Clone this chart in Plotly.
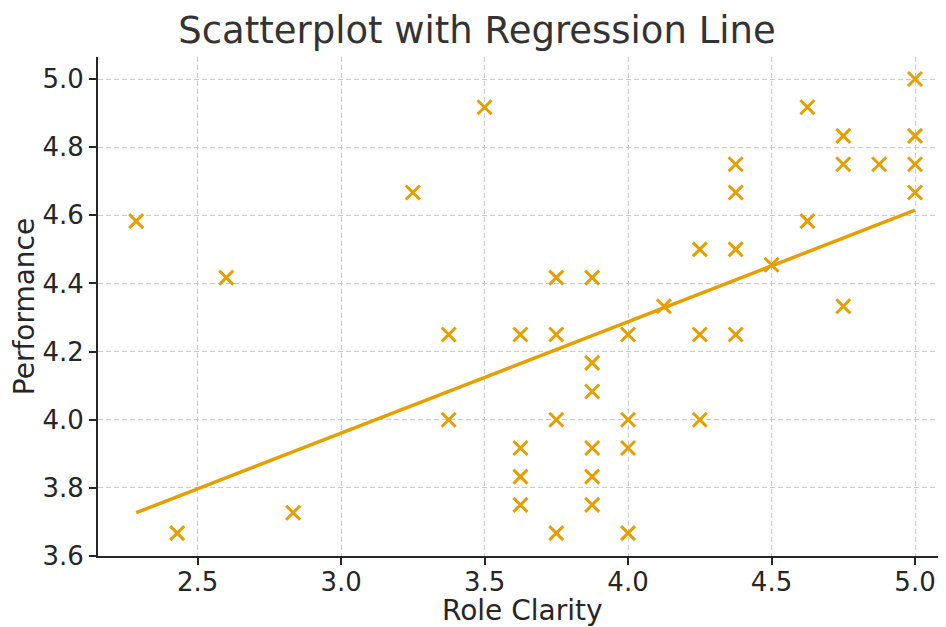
import plotly.graph_objects as go

# Data
role_clarity = [2.286, 2.429, 2.6, 2.833, 3.25, 3.375, 3.375, 3.5,
                3.625, 3.625, 3.625, 3.625,
                3.75, 3.75, 3.75, 3.75,
                3.875, 3.875, 3.875, 3.875, 3.875, 3.875,
                4.0, 4.0, 4.0, 4.0,
                4.125,
                4.25, 4.25, 4.25,
                4.375, 4.375, 4.375, 4.375,
                4.5,
                4.625, 4.625,
                4.75, 4.75, 4.75,
                4.875,
                5.0, 5.0, 5.0, 5.0]
performance = [4.583, 3.667, 4.417, 3.727, 4.667, 4.25, 4.0, 4.917,
               4.25, 3.917, 3.833, 3.75,
               4.417, 4.25, 4.0, 3.667,
               4.417, 4.167, 4.083, 3.917, 3.833, 3.75,
               4.25, 4.0, 3.917, 3.667,
               4.333,
               4.5, 4.25, 4.0,
               4.75, 4.667, 4.5, 4.25,
               4.455,
               4.917, 4.583,
               4.833, 4.75, 4.333,
               4.75,
               5.0, 4.833, 4.75, 4.667]

# Regression line
reg_slope = 0.3272
reg_intercept = 2.979

x_ticks = [2.5, 3.0, 3.5, 4.0, 4.5, 5.0]
y_ticks = [3.6, 3.8, 4.0, 4.2, 4.4, 4.6, 4.8, 5.0]
x_label = "Role Clarity"
y_label = "Performance"
title_text = "Scatterplot with Regression Line"

line_x = [min(role_clarity), max(role_clarity)]
line_y = [reg_slope * v + reg_intercept for v in line_x]

ORANGE = "#E69F00"
FONT = "DejaVu Sans"
TXT = "#262626"

fig = go.Figure()
fig.add_trace(go.Scatter(
    x=line_x, y=line_y, mode="lines",
    line=dict(color=ORANGE, width=3.5), showlegend=False))
fig.add_trace(go.Scatter(
    x=role_clarity, y=performance, mode="markers",
    marker=dict(symbol="x-thin", size=14, color=ORANGE,
                line=dict(color=ORANGE, width=3)),
    showlegend=False))

axis_common = dict(
    showgrid=True, gridcolor="#cccccc", griddash="5px,3px", gridwidth=1,
    showline=True, linecolor=TXT, linewidth=2,
    ticks="outside", ticklen=7, tickwidth=2, tickcolor=TXT,
    tickfont=dict(family=FONT, size=26, color=TXT),
    zeroline=False, mirror=False, automargin=False,
)

fig.update_layout(
    width=938, height=619,
    paper_bgcolor="white", plot_bgcolor="white",
    margin=dict(l=90, r=0, t=49, b=71),
    title=dict(text=title_text, x=0.5, xanchor="center",
               y=0.9645, yanchor="middle",
               font=dict(family=FONT, size=37, color="#333333")),
    xaxis=dict(range=[2.153, 5.108], tickvals=x_ticks,
               ticktext=[f"{v:.1f}" for v in x_ticks],
               ticklabelstandoff=-5,
               **axis_common),
    yaxis=dict(range=[3.6, 5.0646], tickvals=y_ticks,
               ticktext=[f"{v:.1f}" for v in y_ticks],
               title=dict(text=y_label, standoff=8,
                          font=dict(family=FONT, size=28, color=TXT)),
               **axis_common),
    annotations=[dict(text=x_label, xref="paper", yref="paper",
                      x=0.5, y=0, xanchor="center", yanchor="middle",
                      yshift=-54, showarrow=False,
                      font=dict(family=FONT, size=28, color=TXT))],
)

fig.write_html("out.html")
